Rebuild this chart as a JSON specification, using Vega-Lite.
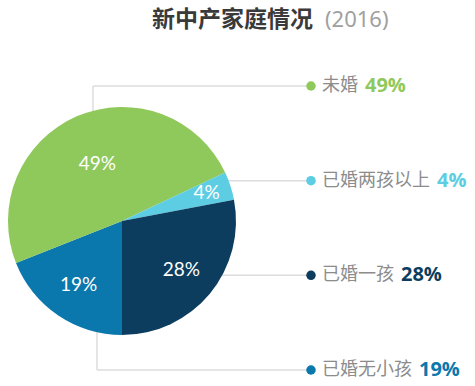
{
  "$schema": "https://vega.github.io/schema/vega-lite/v6.json",
  "width": 475,
  "height": 386,
  "padding": 0,
  "autosize": "none",
  "background": "white",
  "config": {"view": {"stroke": null}},
  "data": {"values": [
    {"cat": "已婚无小孩", "pct": 19, "idx": 1, "label": "19%"},
    {"cat": "未婚", "pct": 49, "idx": 2, "label": "49%"},
    {"cat": "已婚两孩以上", "pct": 4, "idx": 3, "label": "4%"},
    {"cat": "已婚一孩", "pct": 28, "idx": 4, "label": "28%"}
  ]},
  "layer": [
    {
      "transform": [{"filter": "datum.cat === '已婚两孩以上' || datum.cat === '已婚一孩'"}],
      "mark": {"type": "rule", "color": "#dcdcdc", "strokeWidth": 1.5},
      "encoding": {
        "x": {"value": 200},
        "x2": {"value": 311},
        "y": {"field": "cat", "type": "nominal", "scale": {"type": "point", "padding": 0, "domain": ["未婚", "已婚两孩以上", "已婚一孩", "已婚无小孩"], "range": [86, 370]}, "axis": null}
      }
    },
    {
      "transform": [{"filter": "datum.cat === '未婚'"}],
      "mark": {"type": "rule", "color": "#dcdcdc", "strokeWidth": 1.5},
      "encoding": {
        "x": {"value": 93},
        "x2": {"value": 311},
        "y": {"field": "cat", "type": "nominal", "axis": null}
      }
    },
    {
      "transform": [{"filter": "datum.cat === '未婚'"}],
      "mark": {"type": "rule", "color": "#dcdcdc", "strokeWidth": 1.5},
      "encoding": {
        "x": {"value": 93},
        "y": {"field": "cat", "type": "nominal", "axis": null},
        "y2": {"value": 130}
      }
    },
    {
      "transform": [{"filter": "datum.cat === '已婚无小孩'"}],
      "mark": {"type": "rule", "color": "#dcdcdc", "strokeWidth": 1.5},
      "encoding": {
        "x": {"value": 97},
        "x2": {"value": 311},
        "y": {"field": "cat", "type": "nominal", "axis": null}
      }
    },
    {
      "transform": [{"filter": "datum.cat === '已婚无小孩'"}],
      "mark": {"type": "rule", "color": "#dcdcdc", "strokeWidth": 1.5},
      "encoding": {
        "x": {"value": 97},
        "y": {"field": "cat", "type": "nominal", "axis": null},
        "y2": {"value": 310}
      }
    },
    {
      "mark": {"type": "arc", "outerRadius": 114, "x": 122, "y": 221},
      "encoding": {
        "theta": {"field": "pct", "type": "quantitative", "stack": true, "scale": {"range": [3.14159265, 9.42477796]}},
        "order": {"field": "idx", "type": "quantitative"},
        "color": {"field": "cat", "type": "nominal", "scale": {"domain": ["未婚", "已婚两孩以上", "已婚一孩", "已婚无小孩"], "range": ["#90c95b", "#5ccde2", "#0c3d5e", "#0b78ad"]}, "legend": null}
      }
    },
    {
      "mark": {"type": "text", "x": 122, "y": 221, "radius": {"expr": "datum.cat === '已婚两孩以上' ? 89 : datum.cat === '未婚' ? 62 : 77"}, "fill": "white", "fontSize": 19, "font": "Lato", "align": "center", "baseline": "middle"},
      "encoding": {
        "theta": {"field": "pct", "type": "quantitative", "stack": true},
        "order": {"field": "idx", "type": "quantitative"},
        "text": {"field": "label"}
      }
    },
    {
      "mark": {"type": "circle", "size": 90, "opacity": 1},
      "encoding": {
        "x": {"value": 311},
        "y": {"field": "cat", "type": "nominal", "axis": null},
        "color": {"field": "cat", "type": "nominal", "legend": null}
      }
    },
    {
      "mark": {"type": "text", "align": "left", "baseline": "middle", "fontSize": 18, "font": "Noto Sans CJK SC", "fill": "#8c8c8c"},
      "encoding": {
        "x": {"value": 322},
        "y": {"field": "cat", "type": "nominal", "axis": null},
        "text": {"field": "cat"}
      }
    },
    {
      "mark": {"type": "text", "align": "left", "baseline": "middle", "fontSize": 20, "font": "Open Sans", "fontWeight": "bold", "dx": {"expr": "length(datum.cat) * 18 + 7"}},
      "encoding": {
        "x": {"value": 322},
        "y": {"field": "cat", "type": "nominal", "axis": null},
        "text": {"field": "label"},
        "color": {"field": "cat", "type": "nominal", "legend": null}
      }
    },
    {
      "data": {"values": [{"t": "新中产家庭情况"}]},
      "mark": {"type": "text", "align": "left", "baseline": "middle", "fontSize": 23, "font": "Noto Sans CJK SC", "fontWeight": "bold", "fill": "#3a3a3a", "x": 152, "y": 20},
      "encoding": {"text": {"field": "t"}}
    },
    {
      "data": {"values": [{"t": "(2016)"}]},
      "mark": {"type": "text", "align": "left", "baseline": "middle", "fontSize": 22, "font": "Noto Sans", "fill": "#a0a0a0", "x": 325, "y": 20},
      "encoding": {"text": {"field": "t"}}
    }
  ]
}
